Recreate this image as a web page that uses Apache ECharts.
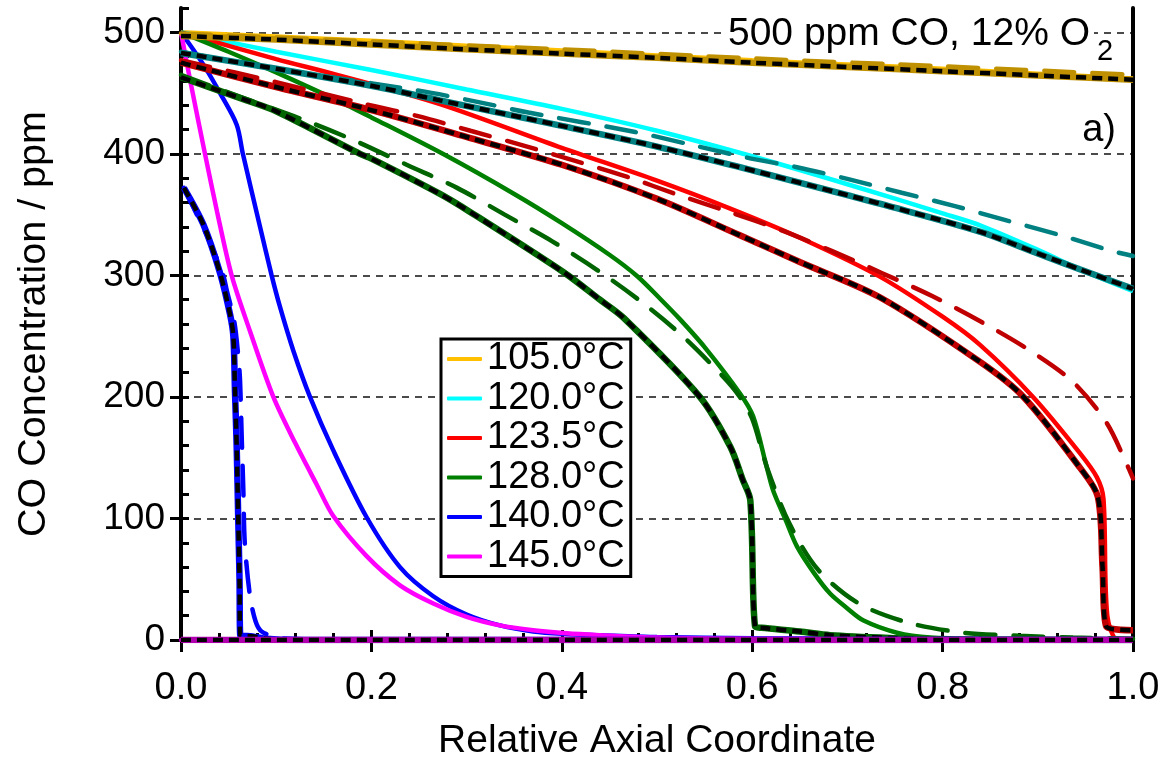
<!doctype html>
<html>
<head>
  <meta charset="utf-8">
  <title>CO concentration profiles</title>
  <script src="https://cdn.jsdelivr.net/npm/echarts@6/dist/echarts.min.js"></script>
  <style>
    html, body { margin: 0; padding: 0; background: #fff; }
    #main { width: 1166px; height: 757px; }
  </style>
</head>
<body>
<div id="main"></div>
<script>
  // legend names and colours
  var tempNames = ['105.0°C', '120.0°C', '123.5°C', '128.0°C', '140.0°C', '145.0°C'];
  var brightColors = ['#FFC000', '#00FFFF', '#FF0000', '#008000', '#0000FF', '#FF00FF'];
  var darkColors = ['#BF9000', '#008080', '#C00000', '#006400', '#0000FF', '#B000B0'];

  // solid curves  [x, ppm]
  var solid105 = [[0,500],[0.1,496.5],[0.2,493],[0.3,489],[0.4,485],[0.5,481],[0.6,477],[0.7,473.5],[0.8,470],[0.9,466],[1,462]];
  var solid120 = [[0,500],[0.1,484],[0.2,469],[0.3,453],[0.4,437],[0.5,419],[0.6,398],[0.7,375],[0.8,351],[0.84,341],[0.9,321],[0.95,303],[1,287]];
  var solid123 = [[0,500],[0.1,478],[0.164,465],[0.272,441],[0.4,405],[0.5,378],[0.577,355],[0.65,331],[0.734,299],[0.8,266],[0.839,243],[0.895,200],[0.944,154],[0.962,134],[0.969,116],[0.973,20],[0.984,0],[1,0]];
  var solid128 = [[0,500],[0.05,484],[0.1,467],[0.164,444],[0.2,430],[0.275,400],[0.35,367],[0.4,343],[0.45,317],[0.479,299.5],[0.503,281],[0.524,264],[0.55,241],[0.587,203],[0.601,184],[0.615,143],[0.622,123],[0.635,99],[0.647,77],[0.665,55],[0.682,38],[0.7,26],[0.717,16],[0.752,6],[0.787,2],[0.85,1],[1,0.5]];
  var solid140 = [[0,500],[0.023,474],[0.041,450],[0.0585,424],[0.065,400],[0.083,340],[0.0952,300],[0.104,274],[0.118,238],[0.1355,200],[0.16,156],[0.195,101],[0.23,60],[0.265,36],[0.3,21],[0.335,12],[0.37,7],[0.405,5],[0.44,4],[0.5,2.5],[0.6,1.5],[0.8,1],[1,0.5]];
  var solid145 = [[0,500],[0.01,459],[0.0252,400],[0.038,352],[0.0532,300],[0.0725,254],[0.097,200],[0.12,162],[0.1425,128],[0.16,102],[0.195,69],[0.23,45],[0.265,30],[0.3,19],[0.335,12],[0.37,8],[0.405,5.5],[0.44,4],[0.5,2],[0.6,1],[0.8,0.5],[1,0.3]];

  // long-dash curves
  var long105 = [[0,499],[0.2,492.5],[0.4,486],[0.6,478.5],[0.8,472],[1,465]];
  var long120 = [[0,484],[0.083,472],[0.25,452],[0.31,443],[0.365,434],[0.477,418],[0.533,408],[0.594,397],[0.647,389],[0.702,379],[0.757,368],[0.813,357],[0.868,345],[0.924,333],[0.978,320],[1,316]];
  var long123 = [[0,477],[0.1,459],[0.193,441],[0.249,431],[0.304,419],[0.359,407],[0.415,394],[0.469,381],[0.523,366],[0.573,353],[0.631,337],[0.684,320],[0.736,302],[0.789,283],[0.84,262],[0.89,239],[0.936,213],[0.972,179],[0.995,142],[1,133]];
  var long128 = [[0,465],[0.076,443],[0.132,427],[0.185,410],[0.237,391],[0.29,372],[0.34,350],[0.39,328],[0.438,304],[0.484,278],[0.527,250],[0.569,217],[0.587,200],[0.6,182],[0.616,141],[0.639,96],[0.669,58],[0.712,30],[0.765,14],[0.822,6],[0.88,3.5],[0.937,2],[1,1]];
  var long140 = [[0.003,372],[0.0287,330],[0.044,301],[0.048,288],[0.056,262],[0.06,235],[0.062,214],[0.0637,169],[0.0655,123],[0.067,80],[0.0725,36],[0.0785,15],[0.0847,7],[0.104,1.5],[0.15,0.5],[1,0]];
  var long145 = [[0,0],[1,0]];

  // black short-dash curves
  var model105 = [[0,497],[0.1,494],[0.2,490],[0.3,486],[0.4,482.5],[0.5,479],[0.6,475],[0.7,471.5],[0.8,468],[0.9,464.5],[1,461]];
  var model120 = [[0,483],[0.1,470],[0.2,456],[0.272,444],[0.4,423],[0.5,406],[0.587,389],[0.7,366],[0.734,359],[0.839,336],[0.9,318],[0.944,305],[1,289]];
  var model123 = [[0,475],[0.1,455],[0.2,436],[0.304,413],[0.4,391],[0.5,363],[0.587,333],[0.65,311],[0.734,282],[0.839,229],[0.885,200],[0.944,142],[0.963,118],[0.968,60],[0.972,11],[1,8]];
  var model128 = [[0,463],[0.069,444],[0.1,435],[0.188,400],[0.2,396],[0.272,367],[0.304,352],[0.403,302],[0.44,280],[0.465,265],[0.545,200],[0.577,159],[0.59,132],[0.598,115],[0.603,11],[0.61,10],[0.65,7],[0.682,4],[0.752,1.5],[0.8,0.5],[1,0]];
  var model140 = [[0.003,372],[0.0234,342],[0.041,302],[0.0515,268],[0.055,250],[0.0567,205],[0.0585,159],[0.06,104],[0.0615,49],[0.0622,4],[0.075,3],[0.09,1],[0.12,0],[1,0]];
  var model145 = [[0,0],[1,0]];

  var solidData = [solid105, solid120, solid123, solid128, solid140, solid145];
  var longData = [long105, long120, long123, long128, long140, long145];
  var modelData = [model105, model120, model123, model128, model140, model145];

  var FONT = 'Liberation Sans, Arial, sans-serif';
  var SMOOTH = 0.3;
  var chart = echarts.init(document.getElementById('main'));

  var series = [];
  tempNames.forEach(function (name, i) {
    series.push({
      name: name, type: 'line', data: solidData[i], symbol: 'none', smooth: SMOOTH,
      lineStyle: { color: brightColors[i], width: 4.5 },
      itemStyle: { color: brightColors[i] }
    });
  });
  tempNames.forEach(function (name, i) {
    series.push({
      name: name + ' dash', type: 'line', data: longData[i], symbol: 'none', smooth: SMOOTH,
      lineStyle: { color: darkColors[i], width: 4.5, type: [30, 18], cap: 'round' }
    });
  });
  tempNames.forEach(function (name, i) {
    // dark band under the black dashes
    series.push({
      name: name + ' band', type: 'line', data: modelData[i], symbol: 'none', smooth: SMOOTH,
      lineStyle: { color: darkColors[i], width: 6.5 }
    });
    series.push({
      name: name + ' model', type: 'line', data: modelData[i], symbol: 'none', smooth: SMOOTH,
      lineStyle: { color: '#000', width: 4.5, type: [10, 6] }
    });
  });

  var yMajor = [0, 100, 200, 300, 400, 500];

  chart.setOption({
    animation: false,
    backgroundColor: '#fff',
    grid: { left: 181, right: 33, top: 8, bottom: 117, outerBoundsMode: 'none', containLabel: false },
    legend: {
      data: tempNames, orient: 'vertical', left: 441, top: 339,
      itemWidth: 35, itemHeight: 4, itemGap: 1.5, icon: 'roundRect',
      padding: [1, 6, 1, 6], backgroundColor: '#fff', borderColor: '#000', borderWidth: 3,
      selectedMode: false,
      textStyle: { fontSize: 38, lineHeight: 38, color: '#000', fontFamily: FONT }
    },
    xAxis: [
      {
        type: 'value', min: 0, max: 1, interval: 0.2, position: 'bottom',
        name: 'Relative Axial Coordinate', nameLocation: 'middle', nameGap: 82,
        nameTextStyle: { fontSize: 39, color: '#000', fontFamily: FONT },
        axisLine: { onZero: false, lineStyle: { color: '#000', width: 4 } },
        axisTick: { inside: false, length: 12, lineStyle: { color: '#000', width: 3 } },
        axisLabel: { margin: 30, fontSize: 38, color: '#000', fontFamily: FONT,
          formatter: function (v) { return v.toFixed(1); } },
        splitLine: { show: false }
      },
      {
        type: 'value', min: 0, max: 1, interval: 0.04, position: 'bottom',
        axisLine: { show: false, onZero: false },
        axisTick: { inside: true, length: 7, lineStyle: { color: '#000', width: 3 } },
        axisLabel: { show: false }, splitLine: { show: false }
      },
      {
        type: 'value', min: 0, max: 1, interval: 0.2, position: 'bottom',
        axisLine: { show: false, onZero: false },
        axisTick: { inside: true, length: 10, lineStyle: { color: '#000', width: 3 } },
        axisLabel: { show: false }, splitLine: { show: false }
      }
    ],
    yAxis: [
      {
        type: 'value', min: 0, max: 520, interval: 100, position: 'left',
        name: 'CO Concentration / ppm', nameLocation: 'middle', nameGap: 127,
        nameTextStyle: { fontSize: 39.5, color: '#000', fontFamily: FONT },
        axisLine: { show: true, onZero: false, lineStyle: { color: '#000', width: 4 } },
        axisTick: { inside: false, length: 11, customValues: yMajor, lineStyle: { color: '#000', width: 3 } },
        axisLabel: { margin: 16, fontSize: 37, color: '#000', fontFamily: FONT, customValues: yMajor },
        splitLine: { show: true, lineStyle: { color: '#111', width: 1.5, type: [7, 6] } }
      },
      {
        type: 'value', min: 0, max: 520, interval: 20, position: 'left',
        axisLine: { show: false, onZero: false },
        axisTick: { inside: true, length: 8, lineStyle: { color: '#000', width: 3 } },
        axisLabel: { show: false }, splitLine: { show: false }
      },
      {
        type: 'value', min: 0, max: 520, interval: 100, position: 'right',
        axisLine: { show: true, onZero: false, lineStyle: { color: '#000', width: 4 } },
        axisTick: { show: false }, axisLabel: { show: false }, splitLine: { show: false }
      }
    ],
    graphic: [
      {
        type: 'text', x: 1094, y: 15, z: 1,
        style: { text: '500 ppm CO, 12% O', align: 'right', verticalAlign: 'top',
          fontSize: 39, fontFamily: FONT, fill: '#000', backgroundColor: '#fff', padding: [0, 4, 0, 6] }
      },
      {
        type: 'text', x: 1097, y: 37, z: 1,
        style: { text: '2', align: 'left', verticalAlign: 'top',
          fontSize: 29, fontFamily: FONT, fill: '#000', backgroundColor: '#fff', padding: [0, 4, 0, 0] }
      },
      {
        type: 'text', x: 1116, y: 112, z: 1,
        style: { text: 'a)', align: 'right', verticalAlign: 'top',
          fontSize: 38, fontFamily: FONT, fill: '#000' }
      }
    ],
    series: series
  });
</script>
</body>
</html>
